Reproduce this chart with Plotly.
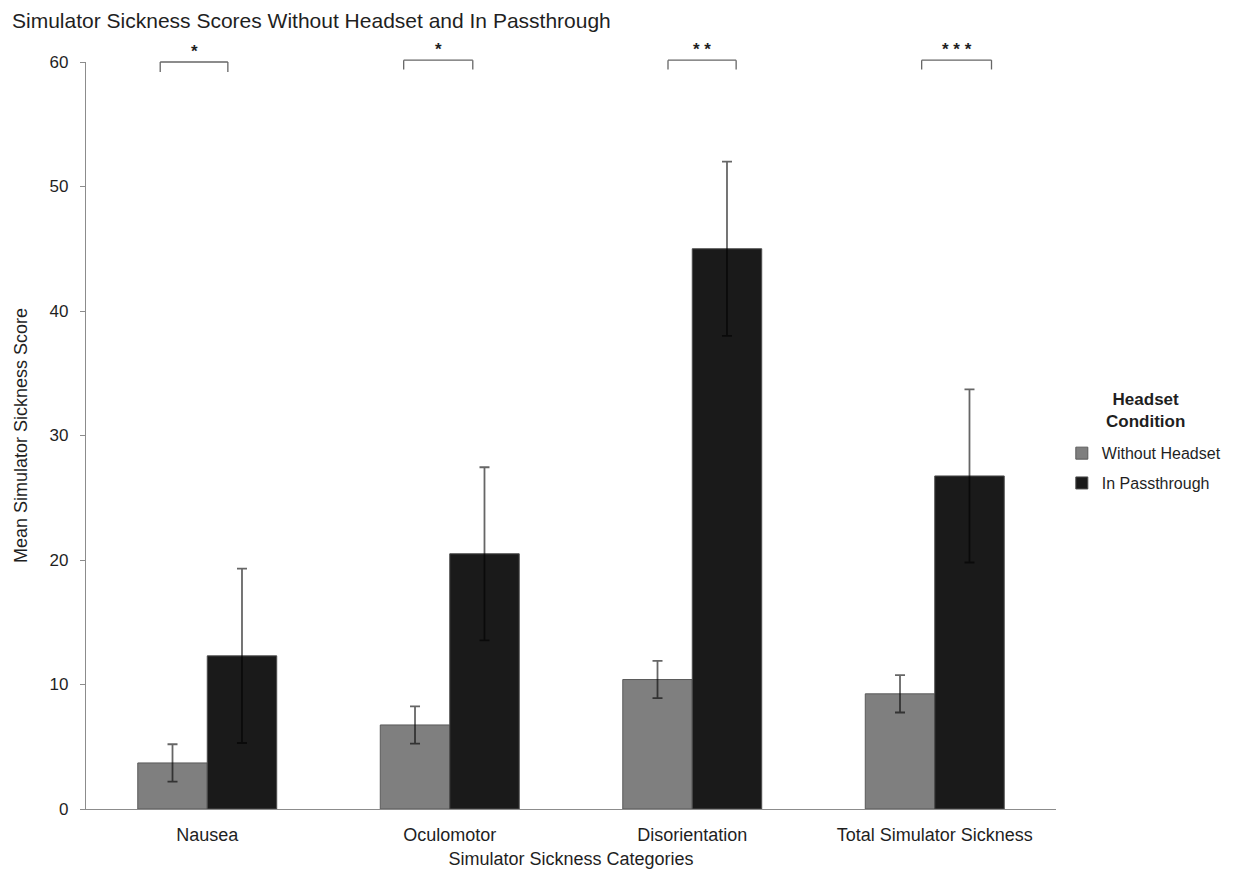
import plotly.graph_objects as go

categories = ["Nausea", "Oculomotor", "Disorientation", "Total Simulator Sickness"]
without_mean = [3.7, 6.75, 10.4, 9.25]
without_err = [1.5, 1.5, 1.5, 1.5]
pass_mean = [12.3, 20.5, 45.0, 26.75]
pass_err = [7.0, 6.95, 7.0, 6.95]
sig_labels = ["*", "*", "* *", "* * *"]
# bracket extents relative to category center (category units)
bracket_left = [-0.194, -0.19, -0.10, -0.054]
bracket_right = [0.085, 0.095, 0.181, 0.234]
bracket_top = [60.0, 60.15, 60.15, 60.15]
bracket_drop = [0.8, 0.75, 0.75, 0.75]

Y_MAX = 60
FONT = "Arial, Liberation Sans, sans-serif"
TXT = "#1f1f1f"

fig = go.Figure()
fig.add_trace(go.Bar(
    name="Without Headset", x=categories, y=without_mean,
    marker=dict(color="#7f7f7f", line=dict(color="#5a5a5a", width=1)),
    error_y=dict(type="data", array=without_err, visible=True,
                 color="rgba(0,0,0,0.6)", thickness=1.8, width=5),
    legendgroup="a",
))
fig.add_trace(go.Bar(
    name="In Passthrough", x=categories, y=pass_mean,
    marker=dict(color="#1a1a1a", line=dict(color="#4d4d4d", width=1)),
    error_y=dict(type="data", array=pass_err, visible=True,
                 color="rgba(0,0,0,0.6)", thickness=1.8, width=5),
    legendgroup="b",
))

shapes = []
annotations = []
for i, lab in enumerate(sig_labels):
    x0 = i + bracket_left[i]
    x1 = i + bracket_right[i]
    yt = bracket_top[i] / Y_MAX
    yb = (bracket_top[i] - bracket_drop[i]) / Y_MAX
    line = dict(color="#666666", width=1.3)
    shapes.append(dict(type="line", xref="x", yref="paper", x0=x0, x1=x1, y0=yt, y1=yt, line=line))
    shapes.append(dict(type="line", xref="x", yref="paper", x0=x0, x1=x0, y0=yt, y1=yb, line=line))
    shapes.append(dict(type="line", xref="x", yref="paper", x0=x1, x1=x1, y0=yt, y1=yb, line=line))
    annotations.append(dict(text="<b>" + lab + "</b>", xref="x", yref="paper",
                            x=(x0 + x1) / 2, y=yt, yshift=11, xanchor="center", yanchor="middle",
                            showarrow=False,
                            font=dict(family=FONT, size=17, color=TXT)))

# legend title as annotation (for spacing control)
annotations.append(dict(text="<b>Headset<br>Condition</b>", xref="paper", yref="paper",
                        x=1.0918, y=0.534, xanchor="center", yanchor="middle",
                        showarrow=False, align="center",
                        font=dict(family=FONT, size=17, color=TXT)))

fig.update_layout(
    width=1233, height=880,
    paper_bgcolor="white", plot_bgcolor="white",
    margin=dict(l=78, r=185, t=54, b=79),
    barmode="group", bargap=0.427, bargroupgap=0,
    font=dict(family=FONT, size=17, color=TXT),
    title=dict(text="Simulator Sickness Scores Without Headset and In Passthrough",
               x=4 / 1233, xanchor="left", xref="container",
               y=1 - 13 / 880, yanchor="middle", yref="container",
               font=dict(family=FONT, size=21, color=TXT)),
    legend=dict(x=1.006, xanchor="left", y=0.499, yanchor="top",
                font=dict(family=FONT, size=16, color=TXT),
                tracegroupgap=6, itemwidth=30),
    shapes=shapes, annotations=annotations,
)
fig.update_xaxes(
    showline=True, linecolor="#8c8c8c", linewidth=1.2, ticks="",
    ticklabelstandoff=9, showgrid=False, tickfont=dict(size=18),
    title=dict(text="Simulator Sickness Categories", standoff=8,
               font=dict(family=FONT, size=18, color=TXT)),
)
fig.update_yaxes(
    range=[0, Y_MAX], dtick=10, showline=True, linecolor="#8c8c8c", linewidth=1.2,
    ticks="outside", ticklen=5, tickcolor="#8c8c8c", ticklabelstandoff=8,
    showgrid=False, zeroline=False, tickfont=dict(size=17),
    title=dict(text="Mean Simulator Sickness Score", standoff=17,
               font=dict(family=FONT, size=18, color=TXT)),
)

fig.write_html("out.html")
